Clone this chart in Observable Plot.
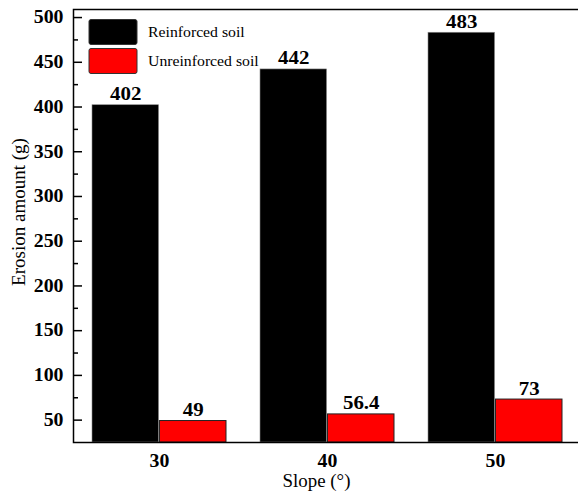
<!DOCTYPE html>
<html><head><meta charset="utf-8">
<script src="https://cdn.jsdelivr.net/npm/d3@7"></script>
<script src="https://cdn.jsdelivr.net/npm/@observablehq/plot@0.6"></script>
<style>body{margin:0;background:#fff;}</style>
</head><body><div id="chart"></div>
<script>
const slopes = ["30", "40", "50"];
const reinforced = [402, 442, 483];
const unreinforced = [49, 56.4, 73];
const seriesNames = ["Reinforced soil", "Unreinforced soil"];
const seriesColors = ["#000000", "#ff0000"];
const yDomain = [25, 509];
const yMajorTicks = [50, 100, 150, 200, 250, 300, 350, 400, 450, 500];
const yMinorTicks = [75, 125, 175, 225, 275, 325, 375, 425, 475];
const xTitle = "Slope (°)";
const yTitle = "Erosion amount (g)";

const rows = slopes.flatMap((s, i) => [
  {slope: s, series: seriesNames[0], value: reinforced[i]},
  {slope: s, series: seriesNames[1], value: unreinforced[i]}
]);
const blackRows = rows.filter(d => d.series === seriesNames[0]);
const redRows = rows.filter(d => d.series === seriesNames[1]);

const W = 578, H = 495, mL = 73, mR = -3, mT = 9, mB = 53;
const xOpts = {type: "band", domain: slopes, paddingInner: 0.2, paddingOuter: 0.106};
const xs = Plot.scale({x: {...xOpts, range: [mL, W - mR]}});
let bw = xs.bandwidth;
if (!bw) { const step = (W - mR - mL) / (slopes.length - 0.2 + 2 * 0.106); bw = step * 0.8; }
const half = bw / 2;

const plot = Plot.plot({
  width: W, height: H,
  marginLeft: mL, marginRight: mR, marginTop: mT, marginBottom: mB,
  style: {fontFamily: "'Liberation Serif', 'Times New Roman', serif", fontSize: "18px", color: "#000", background: "#fff", overflow: "visible"},
  x: {...xOpts, label: null},
  y: {domain: yDomain, label: null},
  marks: [
    Plot.barY(blackRows, {x: "slope", y1: () => yDomain[0], y2: "value", fill: seriesColors[0], stroke: "#888", strokeWidth: 0.6, insetRight: half}),
    Plot.barY(redRows, {x: "slope", y1: () => yDomain[0], y2: "value", fill: seriesColors[1], stroke: "#222", strokeWidth: 1, insetLeft: half}),
    Plot.text(blackRows, {x: "slope", y: "value", text: d => String(d.value), dx: -half / 2, dy: -5, lineAnchor: "bottom", fontWeight: "bold", fontSize: 19, fill: "#000"}),
    Plot.text(redRows, {x: "slope", y: "value", text: d => String(d.value), dx: half / 2, dy: -5, lineAnchor: "bottom", fontWeight: "bold", fontSize: 19, fill: "#000"}),
    Plot.axisY({ticks: yMajorTicks, tickSize: 0, tickPadding: 10, fontSize: 18, fontWeight: "bold", label: null}),
    Plot.axisY({ticks: yMajorTicks, tickSize: -9, tickFormat: () => "", label: null, strokeWidth: 1.5}),
    Plot.axisY({ticks: yMinorTicks, tickSize: -5, tickFormat: () => "", label: null, strokeWidth: 1.5}),
    Plot.axisX({tickSize: 0, tickPadding: 12, fontSize: 18, fontWeight: "bold", label: null}),
    Plot.frame({stroke: "#000", strokeWidth: 1.5}),
    Plot.text([xTitle], {text: d => d, frameAnchor: "bottom", dy: 44, dx: -11, fontSize: 18, fontWeight: "normal"}),
    Plot.text([yTitle], {text: d => d, frameAnchor: "left", textAnchor: "middle", rotate: -90, dx: -55, dy: -14, fontSize: 19, fontWeight: "normal"})
  ]
});
document.getElementById("chart").appendChild(plot);

// Legend (inside plot, top-left)
const svg = d3.select(plot);
const lg = svg.append("g").attr("font-family", "'Liberation Serif', 'Times New Roman', serif").attr("font-size", 15).attr("text-anchor", "start");
seriesNames.forEach((name, i) => {
  const y0 = 19.5 + i * 29;
  lg.append("rect").attr("x", 89).attr("y", y0).attr("width", 48).attr("height", 25).attr("rx", 2)
    .attr("fill", seriesColors[i]).attr("stroke", "#333").attr("stroke-width", 1);
  lg.append("text").attr("x", 148).attr("y", y0 + 14).attr("dominant-baseline", "middle").attr("text-anchor", "start")
    .attr("font-weight", "normal").attr("fill", "#000").text(name);
});

// Slight horizontal stretch of glyphs (horizontal texts only) to match the reference rendering
plot.querySelectorAll("text").forEach(t => {
  if (t.querySelector("tspan")) return;
  if (!t.textContent) return;
  if ((t.getAttribute("transform") || "").includes("rotate")) return;
  if (t.textContent === yTitle) return;
  const len = t.getComputedTextLength();
  if (!len) return;
  const fw = getComputedStyle(t).fontWeight;
  const f = (fw === "bold" || +fw >= 600) ? 1.1 : 1.05;
  t.setAttribute("textLength", (len * f).toFixed(1));
  t.setAttribute("lengthAdjust", "spacingAndGlyphs");
});
</script>
</body></html>
